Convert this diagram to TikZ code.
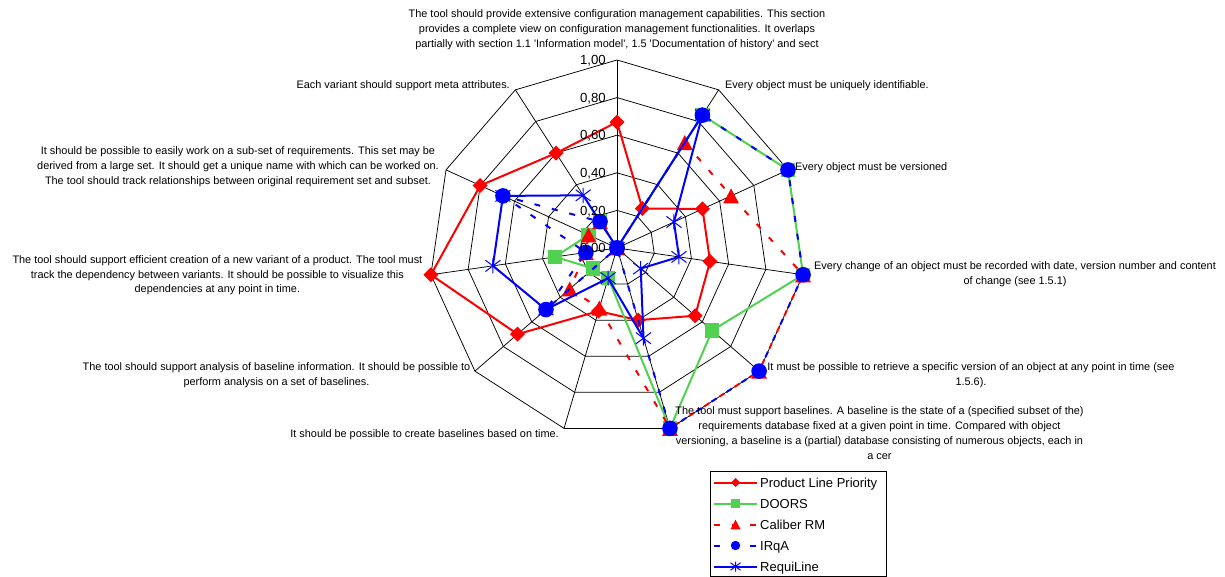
\documentclass[tikz,border=0pt]{standalone}
\usepackage{fontspec}
\setmainfont{Liberation Sans}
\definecolor{plred}{RGB}{255,0,0}
\definecolor{dgreen}{RGB}{80,210,80}
\definecolor{irblue}{RGB}{0,0,255}
\newcommand\mkdiam[2]{\fill[plred] (#1) +(0,-#2) -- +(#2,0) -- +(0,#2) -- +(-#2,0) -- cycle;}
\newcommand\mksq[2]{\fill[dgreen] (#1) +(-#2,-#2) rectangle +(#2,#2);}
\newcommand\mktri[2]{\fill[plred] (#1) +(0,{-#2}) -- +({1.05*#2},{#2}) -- +({-1.05*#2},{#2}) -- cycle;}
\newcommand\mkdot[2]{\fill[irblue] (#1) circle (#2);}
\newcommand\mkstar[2]{\draw[irblue, line width=1pt] (#1) +({-#2},{-0.75*#2}) -- +({#2},{0.75*#2}) (#1) +({-#2},{0.75*#2}) -- +({#2},{-0.75*#2}) (#1) +(0,{-#2}) -- +(0,{#2});}
\tikzset{
  gridline/.style={black, line width=0.75pt},
  sline/.style={line width=2pt, line join=round},
  plline/.style={sline, plred},
  doline/.style={sline, dgreen},
  caline/.style={sline, plred, dash pattern=on 6pt off 12pt},
  irline/.style={sline, irblue, dash pattern=on 6pt off 12pt},
  rqline/.style={sline, irblue},
  lab/.style={font=\fontsize{10.9}{14.8}\selectfont, inner sep=0pt, align=center},
  scl/.style={font=\fontsize{13.2}{15}\selectfont, inner sep=0pt, anchor=base east},
  leg/.style={font=\fontsize{13}{15}\selectfont, inner sep=0pt, anchor=base west},
}
\begin{document}
\begin{tikzpicture}[x=1pt,y=-1pt]
\useasboundingbox (0,0) rectangle (1225,577);
\def\cx{617}\def\cy{248}\def\R{188}
\coordinate (c) at (\cx,\cy);
\foreach \k in {0,...,10}
  \coordinate (ax\k) at ({\cx+\R*cos(90-\k*360/11)},{\cy-\R*sin(90-\k*360/11)});
% grid rings
\foreach \r in {0.2,0.4,0.6,0.8,1}{
  \draw[gridline] ({\cx},{\cy-\R*\r})
    \foreach \k in {1,...,10}{ -- ({\cx+\R*\r*cos(90-\k*360/11)},{\cy-\R*\r*sin(90-\k*360/11)}) } -- cycle;
}
\foreach \k in {0,...,10} \draw[gridline] (c) -- (ax\k);
% data coordinates
\foreach \v [count=\k from 0] in {0.67,0.25,0.5,0.5,0.55,0.4,0.35,0.7,1,0.8,0.6}
  \coordinate (pl\k) at ({\cx+\R*\v*cos(90-\k*360/11)},{\cy-\R*\v*sin(90-\k*360/11)});
\foreach \v [count=\k from 0] in {0,0.84,1,1,0.67,1,0.167,0.167,0.333,0.167,0.167}
  \coordinate (do\k) at ({\cx+\R*\v*cos(90-\k*360/11)},{\cy-\R*\v*sin(90-\k*360/11)});
\foreach \v [count=\k from 0] in {0,0.667,0.667,1,1,1,0.333,0.333,0.167,0.167,0.167}
  \coordinate (ca\k) at ({\cx+\R*\v*cos(90-\k*360/11)},{\cy-\R*\v*sin(90-\k*360/11)});
\foreach \v [count=\k from 0] in {0,0.84,1,1,1,1,0,0.5,0.167,0.667,0.167}
  \coordinate (ir\k) at ({\cx+\R*\v*cos(90-\k*360/11)},{\cy-\R*\v*sin(90-\k*360/11)});
\foreach \v [count=\k from 0] in {0,0.84,0.333,0.333,0.167,0.5,0.167,0.5,0.667,0.667,0.333}
  \coordinate (rq\k) at ({\cx+\R*\v*cos(90-\k*360/11)},{\cy-\R*\v*sin(90-\k*360/11)});
% series
\draw[plline] (pl0) \foreach \k in {1,...,10}{ -- (pl\k)} -- cycle;
\foreach \k in {0,...,10} {\mkdiam{pl\k}{7.5}}
\draw[doline] (do0) \foreach \k in {1,...,10}{ -- (do\k)} -- cycle;
\foreach \k in {0,...,10} {\mksq{do\k}{7.2}}
\draw[caline] (ca0) \foreach \k in {1,...,10}{ -- (ca\k)} -- cycle;
\foreach \k in {0,...,10} {\mktri{ca\k}{7.5}}
\draw[irline] (ir0) \foreach \k in {1,...,10}{ -- (ir\k)} -- cycle;
\foreach \k in {0,...,10} {\mkdot{ir\k}{7.8}}
\draw[rqline] (rq0) \foreach \k in {1,...,10}{ -- (rq\k)} -- cycle;
\foreach \k in {0,...,10} {\mkstar{rq\k}{7.5}}
% scale labels
\node[scl] (s100) at (606,{60+4.7}) {1,00};
\node[scl] (s80) at (606,{97.6+4.7}) {0,80};
\node[scl] (s60) at (606,{135.2+4.7}) {0,60};
\node[scl] (s40) at (606,{172.8+4.7}) {0,40};
\node[scl] (s20) at (606,{210.4+4.7}) {0,20};
\node[scl] (s0) at (606,{248+4.7}) {0,00};
% category labels
\node[lab, anchor=north] (l0) at (617,9.9) {The tool should provide extensive configuration management capabilities. This section\\provides a complete view on configuration management functionalities. It overlaps\\partially with section 1.1 \textquotesingle Information model\textquotesingle, 1.5 \textquotesingle Documentation of history\textquotesingle{} and sect};
\node[lab, anchor=base west] (l1) at (725,88.9) {Every object must be uniquely identifiable.};
\node[lab, anchor=base west] (l2) at (795,170.6) {Every object must be versioned};
\node[lab, anchor=north] (l3) at (1015,261.9) {Every change of an object must be recorded with date, version number and content\\of change (see 1.5.1)};
\node[lab, anchor=north] (l4) at (971,362.6) {It must be possible to retrieve a specific version of an object at any point in time (see\\1.5.6).};
\node[lab, anchor=north] (l5) at (879.5,406.6) {The tool must support baselines. A baseline is the state of a (specified subset of the)\\requirements database fixed at a given point in time. Compared with object\\versioning, a baseline is a (partial) database consisting of numerous objects, each in\\a cer};
\node[lab, anchor=base east] (l6) at (559,437.2) {It should be possible to create baselines based on time.};
\node[lab, anchor=north] (l7) at (276.5,362.6) {The tool should support analysis of baseline information. It should be possible to\\perform analysis on a set of baselines.};
\node[lab, anchor=north] (l8) at (217.4,255.2) {The tool should support efficient creation of a new variant of a product. The tool must\\track the dependency between variants. It should be possible to visualize this\\dependencies at any point in time.};
\node[lab, anchor=north] (l9) at (238,146.9) {It should be possible to easily work on a sub-set of requirements. This set may be\\derived from a large set. It should get a unique name with which can be worked on.\\The tool should track relationships between original requirement set and subset.};
\node[lab, anchor=base east] (l10) at (510,88.9) {Each variant should support meta attributes.};
% legend
\draw[black, line width=0.8pt] (710,471.7) rectangle (886,576);
\coordinate (g1a) at (714,482.5); \coordinate (g1b) at (757,482.5); \coordinate (g1m) at (735.5,482.5);
\coordinate (g2a) at (714,503.5); \coordinate (g2b) at (757,503.5); \coordinate (g2m) at (735.5,503.5);
\coordinate (g3a) at (714,524.5); \coordinate (g3b) at (757,524.5); \coordinate (g3m) at (735.5,524.5);
\coordinate (g4a) at (714,545.5); \coordinate (g4b) at (757,545.5); \coordinate (g4m) at (735.5,545.5);
\coordinate (g5a) at (714,566.5); \coordinate (g5b) at (757,566.5); \coordinate (g5m) at (735.5,566.5);
\draw[plline] (g1a) -- (g1b); \mkdiam{g1m}{4.5}
\draw[doline] (g2a) -- (g2b); \mksq{g2m}{4.3}
\draw[caline] (g3a) -- (g3b); \mktri{g3m}{4.8}
\draw[irline] (g4a) -- (g4b); \mkdot{g4m}{4.7}
\draw[rqline] (g5a) -- (g5b); \mkstar{g5m}{5}
\node[leg] (t1) at (760,{482.5+4.65}) {Product Line Priority};
\node[leg] (t2) at (760,{503.5+4.65}) {DOORS};
\node[leg] (t3) at (760,{524.5+4.65}) {Caliber RM};
\node[leg] (t4) at (760,{545.5+4.65}) {IRqA};
\node[leg] (t5) at (760,{566.5+4.65}) {RequiLine};
\end{tikzpicture}
\end{document}
